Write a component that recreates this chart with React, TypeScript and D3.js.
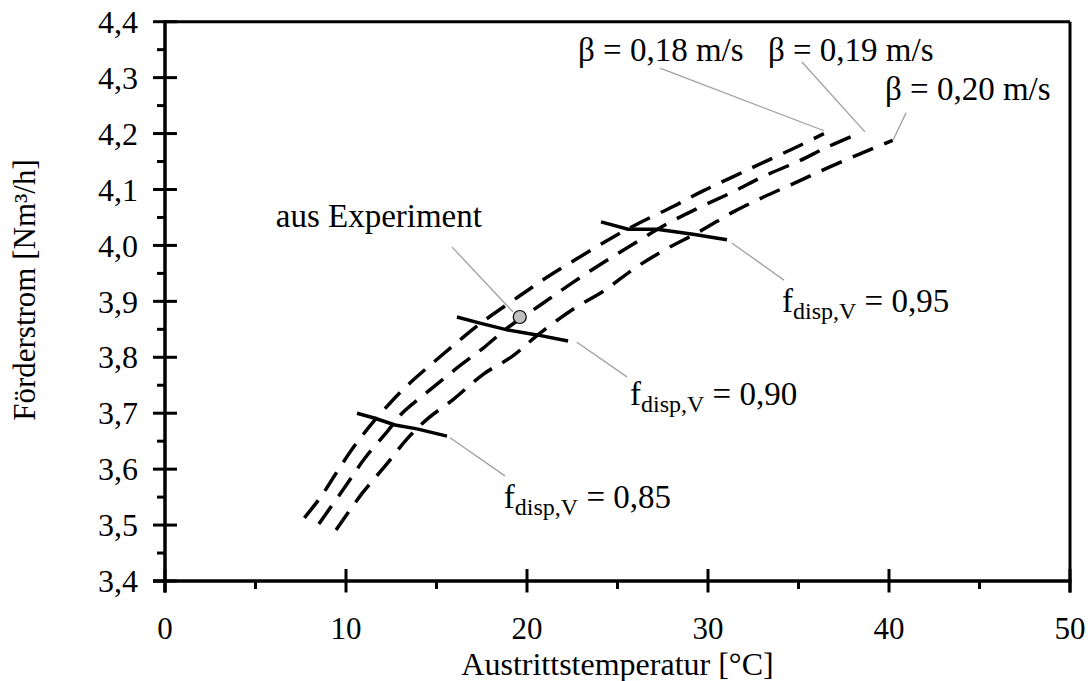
import React from "react";
import * as d3 from "d3";

// ---- data ----
const curve018: [number, number][] = [
  [7.7, 3.513], [8.6, 3.55], [9.4, 3.59], [10.5, 3.643], [11.6, 3.688], [12.4, 3.717],
  [13.4, 3.75], [14.8, 3.79], [16.3, 3.831], [17.4, 3.86], [19.6, 3.91], [21.1, 3.943],
  [22.8, 3.977], [24.6, 4.012], [26.2, 4.04], [28.1, 4.07], [29.7, 4.097], [31.4, 4.123],
  [33.1, 4.149], [34.9, 4.176], [36.4, 4.2],
];
const curve019: [number, number][] = [
  [8.5, 3.502], [9.94, 3.568], [11.05, 3.62], [12.3, 3.668], [13.1, 3.7], [14.5, 3.738],
  [16.1, 3.78], [17.6, 3.817], [18.9, 3.852], [20.9, 3.897], [22.5, 3.933], [24.2, 3.969],
  [25.9, 4.003], [27.7, 4.038], [29.6, 4.069], [31.4, 4.096], [33.1, 4.124], [34.9, 4.149],
  [36.6, 4.176], [38.3, 4.2],
];
const curve020: [number, number][] = [
  [9.45, 3.491], [10.9, 3.557], [12.2, 3.607], [13.4, 3.655], [14.5, 3.69], [15.9, 3.724],
  [17.6, 3.77], [19.2, 3.802], [20.6, 3.84], [22.5, 3.885], [24.3, 3.92], [25.9, 3.958],
  [27.6, 3.992], [29.6, 4.026], [31.4, 4.06], [33.1, 4.087], [34.9, 4.113], [36.7, 4.14],
  [38.5, 4.165], [40.2, 4.188],
];
const fdisp085: [number, number][] = [
  [10.61, 3.7], [11.6, 3.691], [12.71, 3.679], [13.92, 3.672], [15.58, 3.659],
];
const fdisp090: [number, number][] = [
  [16.13, 3.872], [17.4, 3.861], [18.9, 3.849], [20.55, 3.84], [22.27, 3.829],
];
const fdisp095: [number, number][] = [
  [24.09, 4.042], [25.58, 4.029], [27.18, 4.029], [29.17, 4.02], [31.05, 4.01],
];
const experiment: [number, number] = [19.6, 3.872];

const xTicks = [0, 10, 20, 30, 40, 50];
const xMinorTicks = [5, 15, 25, 35, 45];
const yTicks = [3.4, 3.5, 3.6, 3.7, 3.8, 3.9, 4.0, 4.1, 4.2, 4.3, 4.4];
const yMinorTicks = [3.45, 3.55, 3.65, 3.75, 3.85, 3.95, 4.05, 4.15, 4.25, 4.35];

const betaLabels = ["β = 0,18 m/s", "β = 0,19 m/s", "β = 0,20 m/s"];
const betaTextPos: [number, number][] = [[22.82, 4.33], [33.31, 4.33], [39.78, 4.26]];
const betaLeaders: [number, number][][] = [
  [[27.35, 4.317], [36.41, 4.205]],
  [[35.19, 4.328], [38.67, 4.203]],
  [[40.94, 4.237], [40.22, 4.188]],
];
const fLabels = ["0,85", "0,90", "0,95"];
const fTextPos: [number, number][] = [[18.72, 3.53], [25.69, 3.715], [34.09, 3.881]];
const fLeaders: [number, number][][] = [
  [[15.75, 3.656], [18.78, 3.588]],
  [[22.76, 3.827], [25.52, 3.765]],
  [[31.33, 4.004], [34.2, 3.938]],
];
const expLabel = "aus Experiment";
const expTextPos: [number, number] = [17.51, 4.033];
const expLeader: [number, number][] = [[15.86, 3.997], [19.23, 3.881]];

const X0 = 165, X1 = 1070, Y0 = 581, Y1 = 21.7;
const FONT = "'Liberation Serif', 'Times New Roman', serif";

export default function App() {
  const x = d3.scaleLinear().domain([0, 50]).range([X0, X1]);
  const y = d3.scaleLinear().domain([3.4, 4.4]).range([Y0, Y1]);
  const smooth = d3.line<[number, number]>().x(d => x(d[0])).y(d => y(d[1])).curve(d3.curveCatmullRom.alpha(0.5));
  const straight = d3.line<[number, number]>().x(d => x(d[0])).y(d => y(d[1]));
  const curves = [curve018, curve019, curve020];
  const fLines = [fdisp085, fdisp090, fdisp095];
  const tickFs = 31;
  const annFs = 33;

  return (
    <svg width={1091} height={681} style={{ position: "absolute", left: 0, top: 0, background: "#fff" }}
      fontFamily={FONT}>
      <line x1={X0} x2={X1} y1={Y1} y2={Y1} stroke="#000" strokeWidth={3} />
      <line x1={X1} x2={X1} y1={Y1} y2={Y0 + 11.5} stroke="#000" strokeWidth={3} />
      <line x1={X0} x2={X0} y1={Y1 - 1.5} y2={Y0 + 11.5} stroke="#000" strokeWidth={3.5} />
      <line x1={X0 - 12} x2={X1 + 1.5} y1={Y0} y2={Y0} stroke="#000" strokeWidth={3.5} />
      {yTicks.map(t => (
        <g key={"yt" + t}>
          <line x1={X0 - 12} x2={X0 + 12} y1={y(t)} y2={y(t)} stroke="#000" strokeWidth={3} />
          <text x={138} y={y(t)} dy="0.35em" textAnchor="end" fontSize={32}>
            {t.toFixed(1).replace(".", ",")}
          </text>
        </g>
      ))}
      {yMinorTicks.map(t => (
        <line key={"ym" + t} x1={X0 - 8} x2={X0} y1={y(t)} y2={y(t)} stroke="#000" strokeWidth={3} />
      ))}
      {xTicks.map(t => (
        <g key={"xt" + t}>
          <line x1={x(t)} x2={x(t)} y1={Y0 - 12} y2={Y0 + 11.5} stroke="#000" strokeWidth={3} />
          <text x={x(t)} y={639} textAnchor="middle" fontSize={tickFs}>{t}</text>
        </g>
      ))}
      {xMinorTicks.map(t => (
        <line key={"xm" + t} x1={x(t)} x2={x(t)} y1={Y0} y2={Y0 + 8} stroke="#000" strokeWidth={3} />
      ))}
      <text x={(X0 + X1) / 2} y={675} textAnchor="middle" fontSize={32}>Austrittstemperatur [°C]</text>
      <text transform={`translate(35,${290}) rotate(-90)`} textAnchor="middle" fontSize={31}>
        Förderstrom [Nm³/h]
      </text>

      {[...betaLeaders, ...fLeaders, expLeader].map((l, i) => (
        <path key={"ld" + i} d={straight(l as [number, number][]) || ""} stroke="#a0a0a0" strokeWidth={1.3} fill="none" />
      ))}

      {curves.map((c, i) => (
        <path key={"c" + i} d={smooth(c) || ""} fill="none" stroke="#000" strokeWidth={3.5} strokeDasharray="22,12" />
      ))}
      {fLines.map((c, i) => (
        <path key={"f" + i} d={straight(c) || ""} fill="none" stroke="#000" strokeWidth={3.5} />
      ))}
      <circle cx={x(experiment[0])} cy={y(experiment[1])} r={6.5} fill="#c0c0c0" stroke="#000" strokeWidth={1.2} />

      {betaLabels.map((b, i) => (
        <text key={"b" + i} x={x(betaTextPos[i][0])} y={y(betaTextPos[i][1])} fontSize={annFs}>{b}</text>
      ))}
      {fLabels.map((v, i) => (
        <text key={"fl" + i} x={x(fTextPos[i][0])} y={y(fTextPos[i][1])} fontSize={annFs}>
          f<tspan fontSize={24} dy={7}>disp,V</tspan><tspan dy={-7}> = {v}</tspan>
        </text>
      ))}
      <text x={x(expTextPos[0])} y={y(expTextPos[1])} textAnchor="end" fontSize={annFs}>{expLabel}</text>
    </svg>
  );
}
